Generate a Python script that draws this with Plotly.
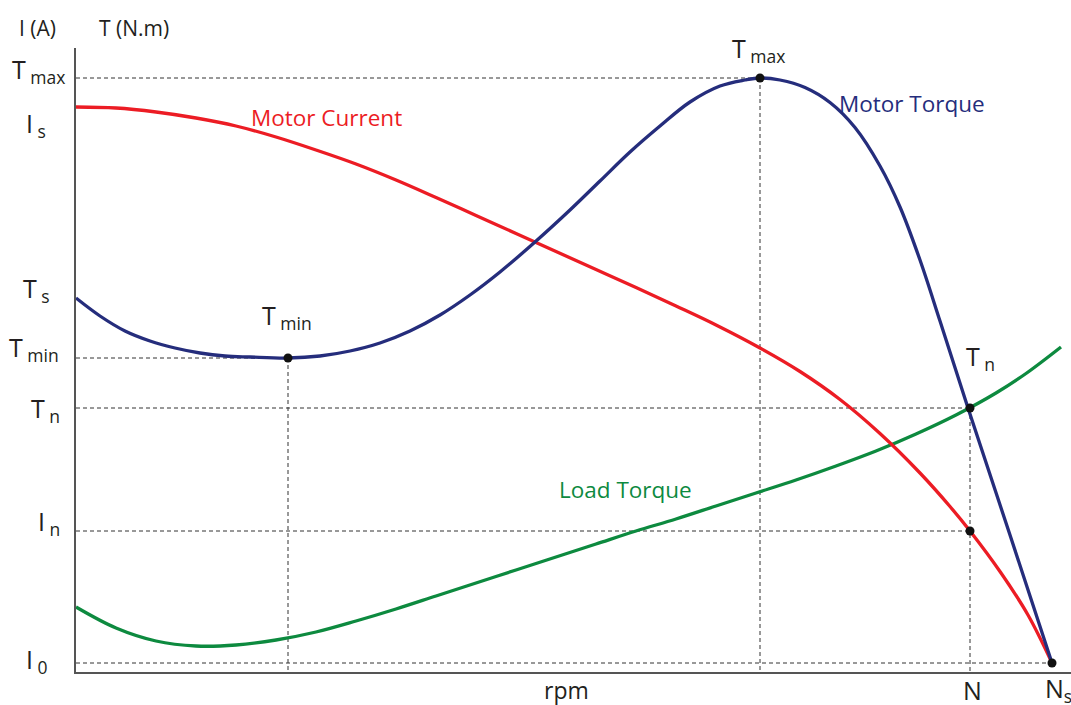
import plotly.graph_objects as go

# ---- data (schematic units: speed on x, torque/current on y) ----
speed_torque = [0, 24, 49, 74, 99, 124, 149, 174, 212, 244, 274, 304, 334, 364, 394, 424, 459, 494,
                524, 554, 584, 614, 644, 669, 684, 704, 729, 754, 779, 804, 824, 844, 864, 892,
                934, 976]
motor_torque = [374, 356, 341, 331, 324, 319, 316, 315, 314, 316, 321, 329, 341, 357, 377, 400, 430,
                462, 491, 520, 546, 570, 586, 592, 594, 592, 584.5, 569.5, 544.5, 506, 465, 412, 351,
                264, 137, 9]

speed_current = [0, 40, 80, 120, 160, 200, 240, 280, 320, 360, 400, 440, 480, 520, 560, 600, 640,
                 684, 724, 764, 804, 844, 874, 894, 924, 952, 976]
motor_current = [565, 564, 560, 554, 546, 535, 522, 508, 492, 474.5, 456.5, 438.5, 420.5, 402.5, 384.5,
                 366, 347, 324, 300.5, 272.5, 238.5, 199, 165.5, 141, 100.5, 57, 9]

speed_load = [0, 40, 80, 120, 160, 200, 240, 280, 320, 360, 400, 440, 480, 520, 560, 600, 640, 680,
              720, 760, 800, 840, 880, 920, 950, 985]
load_torque = [65, 44, 31, 26, 27, 32, 40, 51, 63, 76, 89, 102, 115, 128, 141, 153, 166, 179,
               192, 206, 221, 238, 257, 279, 298.5, 325]

# key operating points
T_max, I_s, T_s, T_min, T_n, I_n, I_0 = 594, 565, 374, 314, 264, 141, 9
n_Tmin, n_Tmax, N, N_s = 212, 684, 894, 976

NAVY = "#252d7c"
RED = "#ec1c24"
GREEN = "#0d8a3f"
INK = "#231f20"
FONT = "Open Sans"

# plot area in the 1071x705 picture: left 76, right 1071, top 48, bottom 672
L, R, T, B = 76, 1071, 48, 672

def pxp(x):
    return (x - L) / (R - L)

def pyp(y):
    return (B - y) / (B - T)

fig = go.Figure()

# dashed guide lines
dash = dict(color="#333333", width=1, dash="4px,3px")
guides = [
    ([0, n_Tmax], [T_max, T_max]), ([n_Tmax, n_Tmax], [T_max, 0]),
    ([0, n_Tmin], [T_min, T_min]), ([n_Tmin, n_Tmin], [T_min, 0]),
    ([0, N], [T_n, T_n]), ([N, N], [T_n, 0]),
    ([0, N], [I_n, I_n]),
    ([0, N_s], [I_0, I_0]),
]
for gx, gy in guides:
    fig.add_trace(go.Scatter(x=gx, y=gy, mode="lines", line=dash, hoverinfo="skip", showlegend=False))

# curves
fig.add_trace(go.Scatter(x=speed_load, y=load_torque, mode="lines",
                         line=dict(color=GREEN, width=3.3, shape="spline", smoothing=1),
                         name="Load Torque", showlegend=False))
fig.add_trace(go.Scatter(x=speed_current, y=motor_current, mode="lines",
                         line=dict(color=RED, width=3.3, shape="spline", smoothing=1),
                         name="Motor Current", showlegend=False))
fig.add_trace(go.Scatter(x=speed_torque, y=motor_torque, mode="lines",
                         line=dict(color=NAVY, width=3.3, shape="spline", smoothing=1),
                         name="Motor Torque", showlegend=False))

# key points
fig.add_trace(go.Scatter(x=[n_Tmax, n_Tmin, N, N, N_s], y=[T_max, T_min, T_n, I_n, I_0],
                         mode="markers", marker=dict(color="#111", size=9),
                         showlegend=False, cliponaxis=False))

ann = []

def label(text, x, y, size=25, color=INK, xanchor="center"):
    ann.append(dict(text=text, x=pxp(x), y=pyp(y), xref="paper", yref="paper", showarrow=False,
                    xanchor=xanchor, yanchor="middle",
                    font=dict(family=FONT, size=size, color=color)))

# left axis labels
left = [("T<sub> max</sub>", 67, 71), ("I<sub> s</sub>", 48, 124), ("T<sub> s</sub>", 52, 289),
        ("T<sub> min</sub>", 61, 349), ("T<sub> n</sub>", 62, 410), ("I<sub> n</sub>", 62, 522),
        ("I<sub> 0</sub>", 50, 660)]
for t, rx, cy in left:
    label(t, rx, cy, xanchor="right")

# axis titles
label("I (A)", 37, 28, size=21)
label("T (N.m)", 134, 28, size=21)
label("rpm", 566, 690, size=23)
label("N", 972, 690, size=25)
label("N<sub>s</sub>", 1058, 690, size=25)

# point labels
label("T<sub> max</sub>", 758, 49)
label("T<sub> min</sub>", 287, 316)
label("T<sub> n</sub>", 980, 357)

# curve labels
label("Motor Current", 326, 117, size=22.5, color=RED)
label("Motor Torque", 912, 103, size=22.5, color=NAVY)
label("Load Torque", 625, 490, size=22.5, color=GREEN)

fig.update_layout(
    width=1071, height=705,
    margin=dict(l=L, r=1071 - R, t=T, b=705 - B),
    paper_bgcolor="white", plot_bgcolor="white",
    annotations=ann,
    xaxis=dict(range=[0, R - L], showgrid=False, zeroline=False, showticklabels=False,
               ticks="", showline=True, linecolor="#555", linewidth=1.5),
    yaxis=dict(range=[0, B - T], showgrid=False, zeroline=False, showticklabels=False,
               ticks="", showline=True, linecolor="#555", linewidth=1.5),
)

fig.write_html("out.html", config={"displayModeBar": False},
               post_script="document.body.style.margin='0';")
